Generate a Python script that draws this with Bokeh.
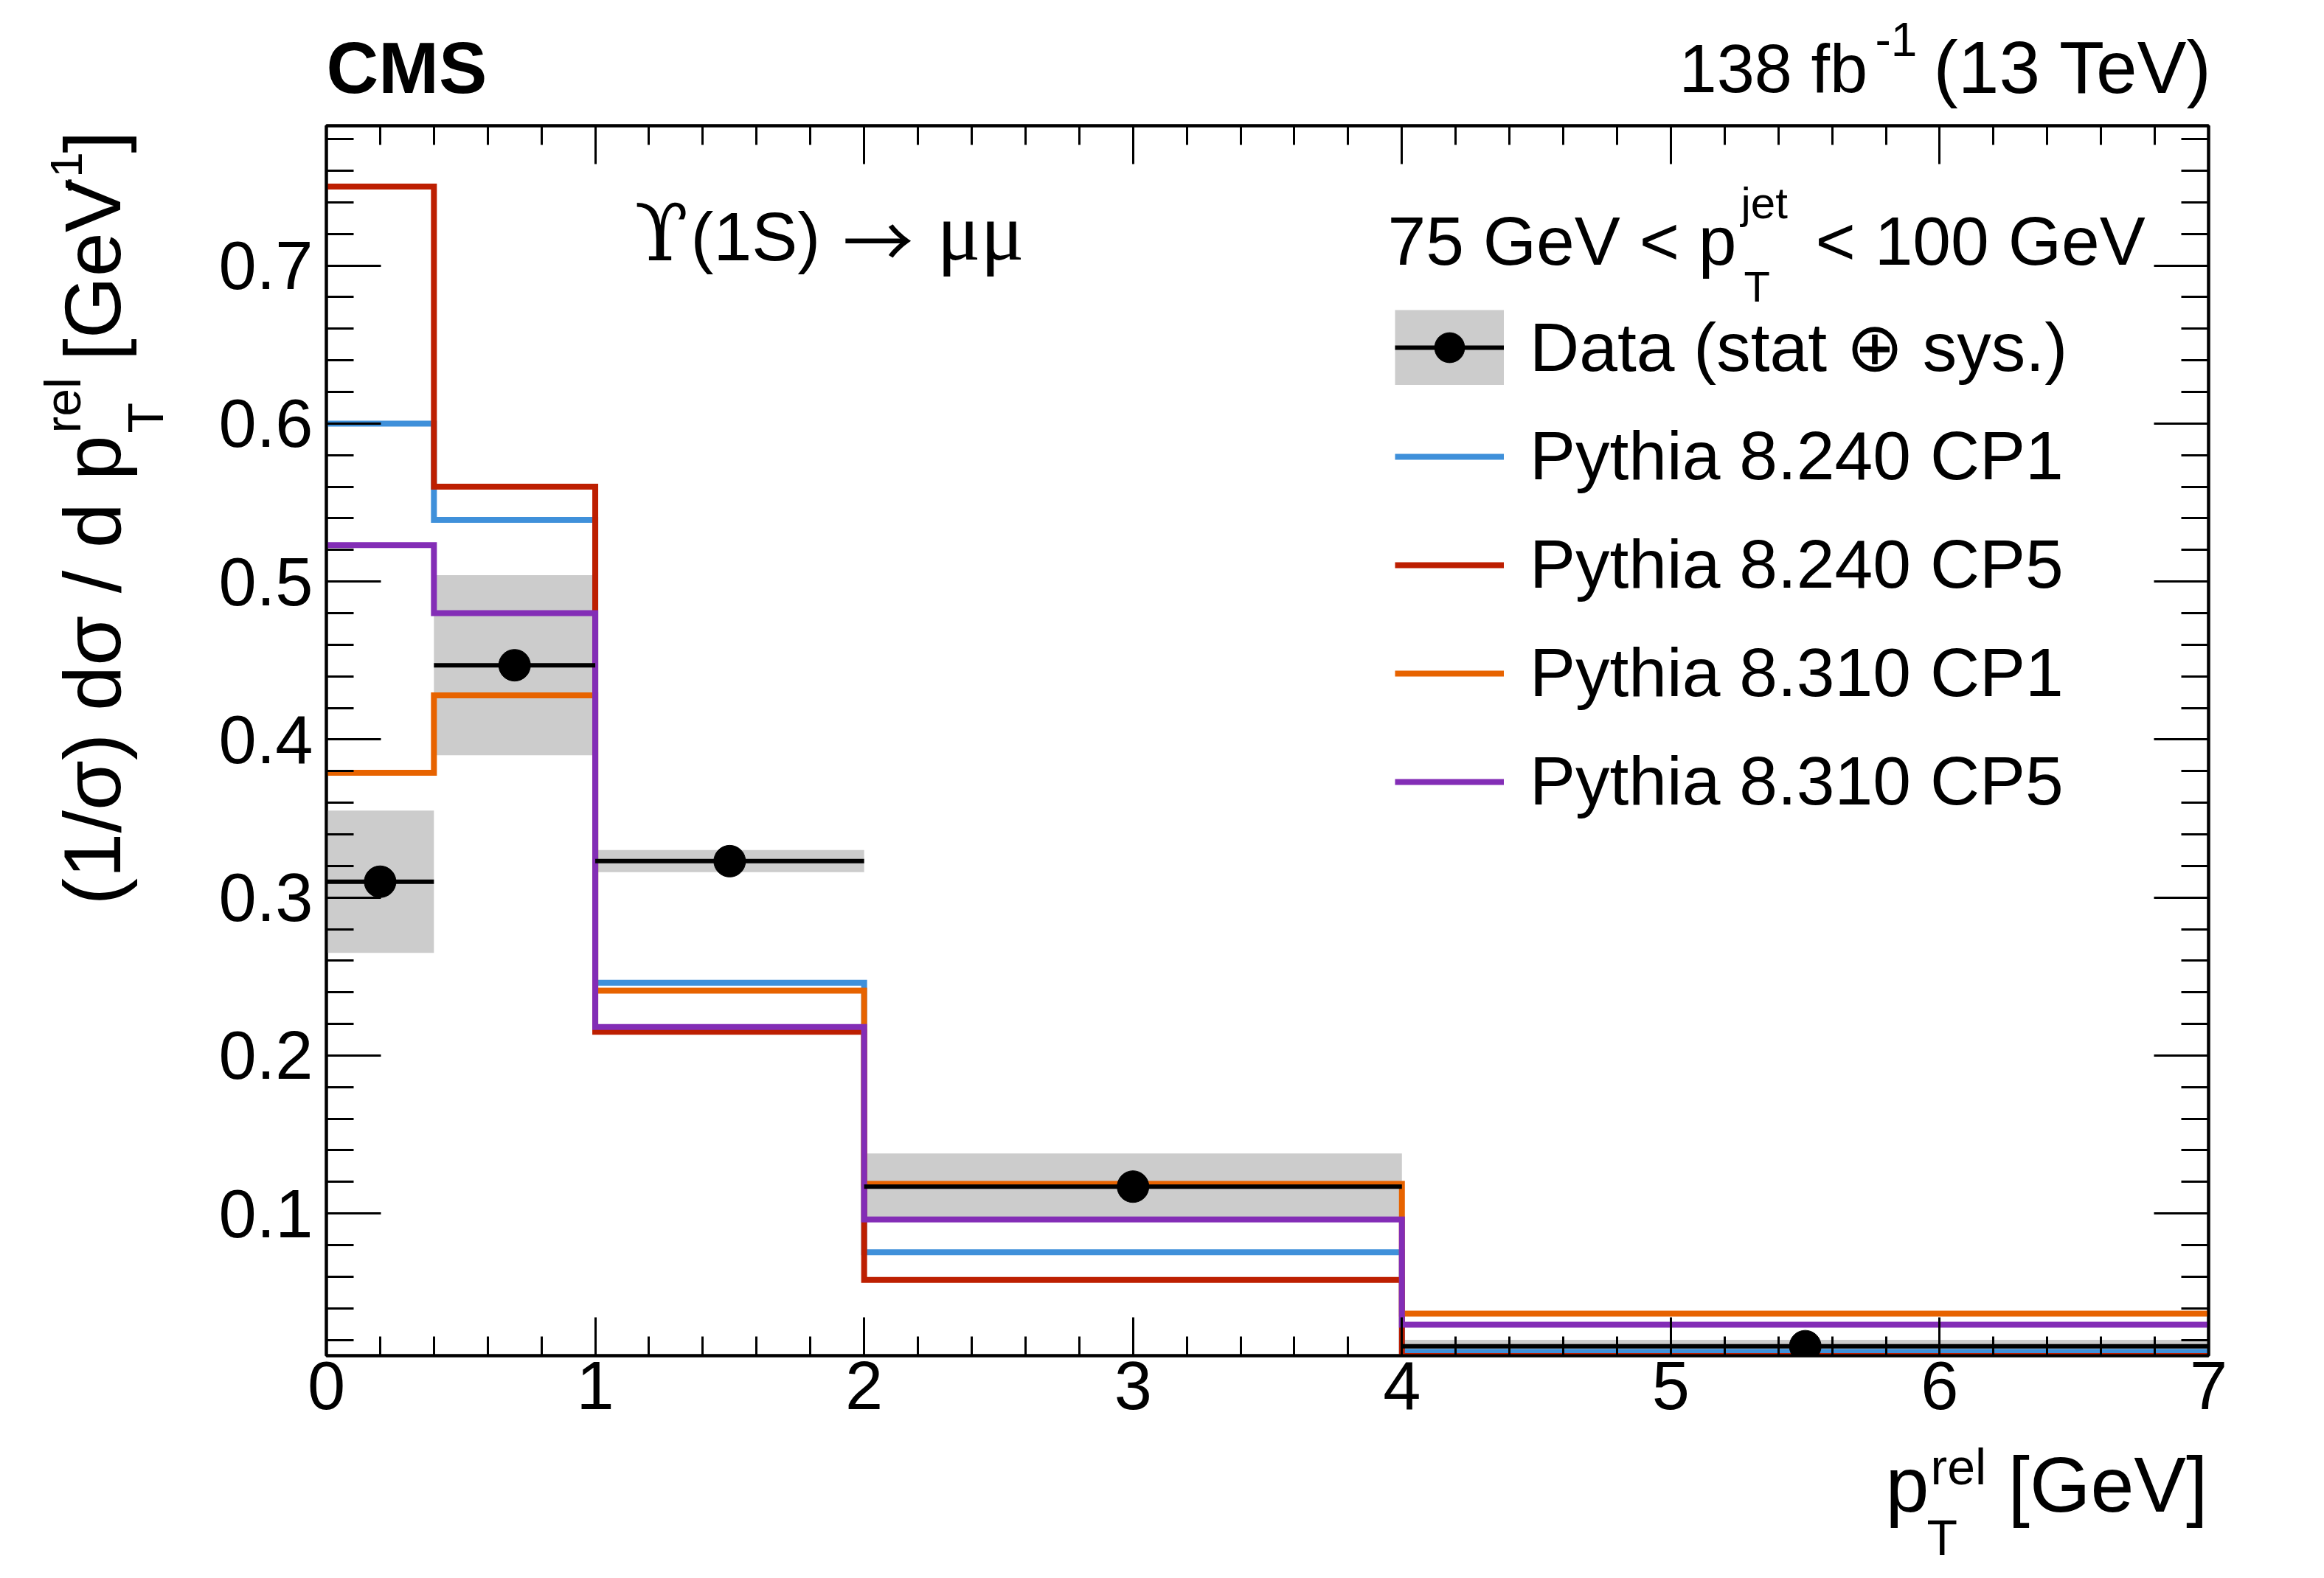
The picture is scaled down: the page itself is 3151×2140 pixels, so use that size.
import math
from bokeh.plotting import figure
from bokeh.models import (LinearAxis, SingleIntervalTicker, Label, Legend, LegendItem, Range1d)
from bokeh.layouts import column, row
from bokeh.embed import file_html
from bokeh.resources import INLINE

# ---------------- data ----------------
bin_edges = [0.0, 0.4, 1.0, 2.0, 4.0, 7.0]
data_val = [0.310, 0.447, 0.323, 0.117, 0.016]
data_lo = [0.265, 0.390, 0.316, 0.098, 0.012]
data_hi = [0.355, 0.504, 0.330, 0.138, 0.020]
p8240_cp1 = [0.600, 0.539, 0.246, 0.0755, 0.0125]
p8240_cp5 = [0.750, 0.560, 0.215, 0.058, 0.0098]
p8310_cp1 = [0.379, 0.428, 0.241, 0.1187, 0.0366]
p8310_cp5 = [0.523, 0.480, 0.218, 0.0962, 0.0296]
model_labels = ["Pythia 8.240 CP1", "Pythia 8.240 CP5", "Pythia 8.310 CP1", "Pythia 8.310 CP5"]
model_colors = ["#3f90da", "#bd1f01", "#e76300", "#832db6"]
data_label = "Data (stat \u2295 sys.)"

XMIN, XMAX = 0.0, 7.0
YMIN, YMAX = 0.010, 0.7885

# ---------------- layout (page pixels) ----------------
FL, FR, FT, FB = 442, 2994, 170, 1838      # plot frame
W = 3150
HEAD_H = 150                                 # header strip: y 0..150
LEFT_W = 280                                 # y-title strip: x 0..280
MAIN_TOP = FT - HEAD_H                       # 20
MAIN_BOTTOM = 112
MID_H = MAIN_TOP + (FB - FT) + MAIN_BOTTOM
BOT_Y0 = HEAD_H + MID_H                      # 1950
BOT_H = 2138 - BOT_Y0                        # x-title strip

FONT = "Liberation Sans"
BASE_SHIFT = 0.37   # em; compensates where Bokeh puts the alphabetic baseline

main = figure(frame_width=FR - FL, frame_height=FB - FT,
              x_range=(XMIN, XMAX), y_range=(YMIN, YMAX),
              min_border_left=FL - LEFT_W, min_border_top=MAIN_TOP,
              min_border_right=W - FR, min_border_bottom=MAIN_BOTTOM,
              toolbar_location=None, output_backend="svg",
              background_fill_color="white", border_fill_color="white")
main.grid.visible = False
main.outline_line_color = "black"
main.outline_line_width = 4


def style_axis(ax, major_len, minor_len, labels=True):
    ax.axis_line_color = "black"
    ax.axis_line_width = 4
    ax.major_tick_in = major_len
    ax.major_tick_out = 0
    ax.minor_tick_in = minor_len
    ax.minor_tick_out = 0
    ax.major_tick_line_width = 3
    ax.minor_tick_line_width = 3
    ax.major_tick_line_color = "black"
    ax.minor_tick_line_color = "black"
    ax.major_label_text_font = FONT
    ax.major_label_text_font_style = "normal"
    ax.major_label_text_color = "black"
    if labels:
        ax.major_label_text_font_size = "92px"
    else:
        ax.major_label_text_font_size = "0px"
        ax.major_label_text_alpha = 0
        ax.major_label_standoff = 0


main.xaxis.ticker = SingleIntervalTicker(interval=1, num_minor_ticks=5)
main.yaxis.ticker = SingleIntervalTicker(interval=0.1, num_minor_ticks=5)
style_axis(main.xaxis[0], 52, 26)
style_axis(main.yaxis[0], 74, 37)
main.xaxis.major_label_standoff = 8
main.yaxis.major_label_standoff = 18

top_ax = LinearAxis(ticker=SingleIntervalTicker(interval=1, num_minor_ticks=5))
style_axis(top_ax, 52, 26, labels=False)
main.add_layout(top_ax, "above")
right_ax = LinearAxis(ticker=SingleIntervalTicker(interval=0.1, num_minor_ticks=5))
style_axis(right_ax, 74, 37, labels=False)
main.add_layout(right_ax, "right")

# ---------------- glyphs ----------------
lefts = bin_edges[:-1]
rights = bin_edges[1:]
centers = [(a + b) / 2 for a, b in zip(lefts, rights)]

band = main.quad(left=lefts, right=rights, bottom=data_lo, top=data_hi,
                 fill_color="#cccccc", line_color=None)
# same band as vertical strokes; hidden in the plot, gives the full grey legend swatch
band_swatch = main.segment(x0=centers, x1=centers, y0=data_lo, y1=data_hi,
                           line_color="#cccccc", line_width=102, line_cap="butt",
                           visible=False)

model_series = [p8240_cp1, p8240_cp5, p8310_cp1, p8310_cp5]
model_renderers = []
for vals, col in zip(model_series, model_colors):
    r = main.step(x=bin_edges, y=vals + [vals[-1]], mode="after",
                  line_color=col, line_width=8, line_join="miter")
    model_renderers.append(r)

xerr = main.segment(x0=lefts, x1=rights, y0=data_val, y1=data_val,
                    line_color="black", line_width=6)
pts = main.scatter(x=centers, y=data_val, size=43, marker="circle",
                   fill_color="black", line_color="black")

# ---------------- legend ----------------
items = [LegendItem(label=data_label, renderers=[band, band_swatch, xerr, pts])]
for lab_txt, r in zip(model_labels, model_renderers):
    items.append(LegendItem(label=lab_txt, renderers=[r]))

leg = Legend(items=items, location=(1891 - FL, FB - 1113),
             glyph_width=148, glyph_height=102, label_height=102,
             label_standoff=35, spacing=40, padding=0, margin=0,
             border_line_color=None, background_fill_alpha=0,
             label_text_font=FONT, label_text_font_size="93px",
             label_text_color="black")
main.add_layout(leg)


# ---------------- texts ----------------
def dx(px):
    return XMIN + (px - FL) / (FR - FL) * (XMAX - XMIN)


def dy(py):
    return YMAX - (py - FT) / (FB - FT) * (YMAX - YMIN)


def lab(fig, text, px, py, size, align="left", style="normal", font=FONT,
        rotated=False, conv=None):
    shift = BASE_SHIFT * size
    if rotated:
        px = px - shift
        angle = math.pi / 2
    else:
        py = py - shift
        angle = 0.0
    x, y = (px, py) if conv is None else conv(px, py)
    fig.add_layout(Label(x=x, y=y, text=text, text_font=font,
                         text_font_size=f"{size}px", text_align=align,
                         text_baseline="alphabetic", text_font_style=style,
                         text_color="black", angle=angle))


def mlab(text, px, py, size, **kw):
    lab(main, text, px, py, size, conv=lambda a, b: (dx(a), dy(b)), **kw)


# process label (inside frame)
mlab("\u03d2", 860, 355, 106, font="DejaVu Serif")
mlab("(1S)", 936, 355, 93)
mlab("\u2192", 1142, 357, 96, font="Noto Sans CJK JP")
mlab("\u03bc\u03bc", 1270, 355, 110, font="Liberation Serif")

# jet pT range (inside frame)
mlab("75 GeV < p", 1881, 361, 93)
mlab("jet", 2360, 297, 60)
mlab("T", 2364, 409, 58)
mlab("< 100 GeV", 2461, 361, 93)


def strip(x0, x1, y0, y1):
    f = figure(width=x1 - x0, height=y1 - y0,
               x_range=Range1d(x0, x1), y_range=Range1d(y1, y0),
               x_axis_type=None, y_axis_type=None, min_border=0,
               toolbar_location=None, output_backend="svg",
               outline_line_color=None, background_fill_color="white",
               border_fill_color="white")
    return f


# header strip
head = strip(0, W, 0, HEAD_H)
lab(head, "CMS", 442, 128, 98, style="bold")
lab(head, "138 fb", 2276, 127, 92)
lab(head, "-1", 2542, 77, 64)
lab(head, "(13 TeV)", 2999, 127, 100, align="right")

# y-title strip (rotated text, reads bottom to top)
left = strip(0, LEFT_W, HEAD_H, BOT_Y0)
lab(left, "(1/\u03c3) d\u03c3 / d p", 165, 603, 110, align="right", rotated=True)
lab(left, "rel", 110, 600, 68, rotated=True)
lab(left, "T", 222, 600, 68, rotated=True)
lab(left, "[GeV", 165, 494, 108, rotated=True)
lab(left, "-1", 112, 248, 62, rotated=True)
lab(left, "]", 165, 190, 108, rotated=True)

# x-title strip
bottom = strip(0, W, BOT_Y0, BOT_Y0 + BOT_H)
lab(bottom, "p", 2556, 2052, 106)
lab(bottom, "rel", 2617, 2014, 68)
lab(bottom, "T", 2612, 2110, 68)
lab(bottom, "[GeV]", 2722, 2052, 106)

page = column(head, row(left, main), bottom)
open("out.html", "w").write(file_html(page, INLINE))
